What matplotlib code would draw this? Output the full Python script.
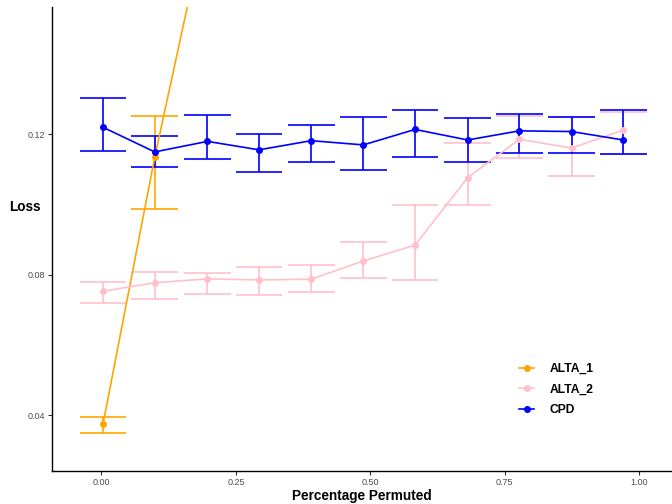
import matplotlib
matplotlib.use("Agg")
import matplotlib.pyplot as plt
from matplotlib.lines import Line2D

plt.rcParams['font.family'] = ['Liberation Sans', 'DejaVu Sans']

# ---- data ----
x_vals = [0.003, 0.099, 0.197, 0.293, 0.390, 0.487, 0.583, 0.681, 0.777, 0.874, 0.970]

cpd_mean = [0.1219, 0.1149, 0.1179, 0.1155, 0.1181, 0.1169, 0.1213, 0.1183, 0.1209, 0.1207, 0.1183]
cpd_low  = [0.1153, 0.1106, 0.1129, 0.1093, 0.1120, 0.1099, 0.1135, 0.1121, 0.1146, 0.1147, 0.1142]
cpd_high = [0.1303, 0.1194, 0.1254, 0.1200, 0.1225, 0.1249, 0.1269, 0.1246, 0.1256, 0.1249, 0.1268]

alta2_mean = [0.0753, 0.0777, 0.0788, 0.0785, 0.0787, 0.0839, 0.0884, 0.1076, 0.1185, 0.1160, 0.1211]
alta2_low  = [0.0718, 0.0730, 0.0746, 0.0741, 0.0750, 0.0791, 0.0785, 0.0999, 0.1132, 0.1081, 0.1142]
alta2_high = [0.0778, 0.0807, 0.0806, 0.0821, 0.0827, 0.0893, 0.0997, 0.1173, 0.1252, 0.1249, 0.1263]

alta1_x    = [0.003, 0.099, 0.197]
alta1_mean = [0.0376, 0.1134, 0.1825]
alta1_low  = [0.0349, 0.0988, 0.1750]
alta1_high = [0.0394, 0.1250, 0.1900]

series = [
    ("ALTA_1", "orange", alta1_x, alta1_mean, alta1_low, alta1_high),
    ("ALTA_2", "pink", x_vals, alta2_mean, alta2_low, alta2_high),
    ("CPD", "blue", x_vals, cpd_mean, cpd_low, cpd_high),
]

cap_half = 0.0434

fig = plt.figure(figsize=(6.72, 5.04), dpi=100)
ax = fig.add_axes([52/672, 1 - 471.3/504, 1 - 52/672, (471.3 - 7)/504])

for name, col, xs, m, lo, hi in series:
    ax.vlines(xs, lo, hi, color=col, lw=1.2, zorder=2)
    ax.hlines(lo, [v - cap_half for v in xs], [v + cap_half for v in xs], color=col, lw=1.2, zorder=2)
    ax.hlines(hi, [v - cap_half for v in xs], [v + cap_half for v in xs], color=col, lw=1.2, zorder=2)
    ax.plot(xs, m, color=col, lw=1.2, marker='o', markersize=4.0, zorder=3)

ax.set_xlim(-0.0920, 1.0608)
ax.set_ylim(0.02407, 0.15612)
ax.set_xticks([0.0, 0.25, 0.5, 0.75, 1.0])
ax.set_xticklabels(["0.00", "0.25", "0.50", "0.75", "1.00"])
ax.set_yticks([0.04, 0.08, 0.12])
ax.set_yticklabels(["0.04", "0.08", "0.12"])

for s in ['top', 'right']:
    ax.spines[s].set_visible(False)
for s in ['left', 'bottom']:
    ax.spines[s].set_color('black')
    ax.spines[s].set_linewidth(1.0)

ax.tick_params(axis='both', colors='#333333', labelcolor='#4d4d4d', labelsize=6.5,
               length=3, width=0.8, pad=2)

fig.text(25/672, 1 - 207/504, "Loss", ha='center', va='center', fontsize=9.8, fontweight='bold')
fig.text((52 + 672)/2/672, 1 - 496/504, "Percentage Permuted", ha='center', va='center',
         fontsize=9.8, fontweight='bold')

handles = [Line2D([0], [0], color=c, lw=1.2, marker='o', markersize=4.0) for _, c, *_ in series]
labels = [s[0] for s in series]
leg = fig.legend(handles, labels, loc='upper left', bbox_to_anchor=(518.7/672, 1 - 363/504),
                 frameon=False, prop={'weight': 'bold', 'size': 8.7}, handlelength=1.3,
                 handletextpad=1.25, labelspacing=0.71, borderpad=0, borderaxespad=0)

fig.savefig("out.png", dpi=100)
